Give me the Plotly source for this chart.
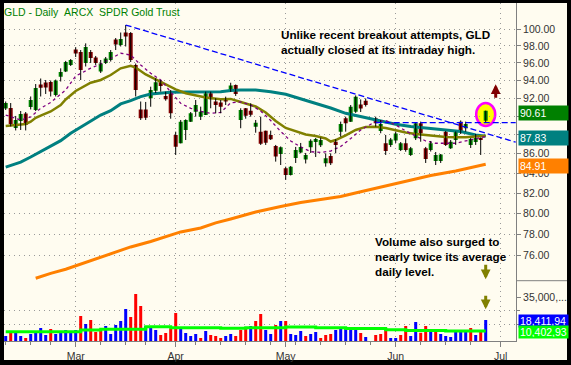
import math
import plotly.graph_objects as go

# ---------------- data ----------------
FEB = [11, 12, 13, 14, 15, 19, 20, 21, 22, 25, 26, 27, 28, 29]
MAR = [3, 4, 5, 6, 7, 10, 11, 12, 13, 14, 17, 18, 19, 20, 24, 25, 26, 27, 28, 31]
APR = [1, 2, 3, 4, 7, 8, 9, 10, 11, 14, 15, 16, 17, 18, 21, 22, 23, 24, 25, 28, 29, 30]
MAY = [1, 2, 5, 6, 7, 8, 9, 12, 13, 14, 15, 16, 19, 20, 21, 22, 23, 27, 28, 29, 30]
JUN = [2, 3, 4, 5, 6, 9, 10, 11, 12, 13, 16, 17, 18, 19, 20, 23, 24, 25, 26]
dates = [f"2008-{m:02d}-{d:02d}" for m, days in ((2, FEB), (3, MAR), (4, APR), (5, MAY), (6, JUN)) for d in days]

open_ = [90.85, 90.90, 88.73, 89.48, 90.30, 91.01, 90.68, 93.53, 93.75, 93.81,
         92.35, 94.42, 95.01, 95.77, 97.57, 97.28, 96.00, 97.28, 96.64, 95.01,
         96.00, 96.35, 98.77, 98.11, 99.61, 99.55, 95.77, 90.73, 90.73, 91.98,
         92.83, 93.86, 92.24, 92.72, 87.98, 87.10, 88.51, 89.41, 90.50, 89.95,
         90.13, 92.54, 91.62, 91.51, 91.98, 92.80, 93.47, 89.59, 90.87, 90.60,
         88.87, 88.33, 88.44, 87.98, 86.81, 85.97, 84.49, 83.81, 85.56, 86.13,
         85.40, 86.67, 87.23, 86.90, 85.01, 85.77, 87.26, 88.33, 89.77, 89.41,
         90.50, 91.29, 91.71, 89.77, 88.41, 87.10, 86.92, 87.39, 86.39, 87.10,
         85.87, 87.62, 89.23, 86.57, 86.39, 85.24, 85.24, 88.33, 86.57, 87.44,
         89.41, 88.70, 86.92, 87.23, 87.60, 89.50]
high = [91.62, 91.45, 90.03, 90.57, 90.46, 92.18, 93.58, 94.21, 94.04, 93.98,
        94.09, 95.38, 96.24, 96.46, 97.86, 97.52, 98.31, 97.52, 96.82, 96.35,
        96.70, 97.52, 98.95, 99.61, 100.52, 99.67, 95.94, 91.62, 91.57, 93.28,
        94.24, 94.04, 92.72, 92.91, 88.33, 89.59, 89.66, 90.46, 91.79, 91.05,
        92.72, 92.72, 91.98, 91.79, 92.16, 93.73, 93.53, 90.87, 90.90, 91.42,
        89.59, 89.95, 88.44, 88.44, 86.92, 86.76, 84.66, 84.73, 86.71, 87.13,
        86.08, 87.52, 87.66, 87.70, 86.04, 86.04, 87.52, 89.41, 89.95, 91.23,
        92.30, 91.85, 91.96, 89.95, 89.59, 87.98, 87.66, 88.33, 87.23, 87.62,
        86.71, 89.31, 89.41, 86.71, 87.34, 86.18, 85.97, 88.40, 87.44, 88.35,
        89.54, 89.41, 87.66, 88.08, 87.71, 90.61]
low = [90.68, 88.89, 88.46, 88.51, 88.46, 90.74, 90.57, 92.18, 92.46, 92.18,
       92.18, 93.87, 94.95, 95.65, 96.70, 94.04, 95.59, 96.00, 95.77, 94.84,
       95.88, 96.17, 97.52, 97.94, 97.94, 96.11, 92.18, 89.59, 89.59, 91.04,
       92.57, 92.72, 91.71, 89.73, 85.87, 87.08, 87.44, 89.38, 89.95, 89.59,
       90.13, 90.87, 90.32, 90.32, 91.23, 92.69, 92.24, 88.70, 89.73, 89.95,
       88.22, 86.92, 86.92, 87.44, 85.18, 84.83, 83.31, 83.76, 85.04, 86.04,
       84.99, 86.08, 85.66, 86.70, 84.66, 84.83, 86.04, 87.80, 88.33, 89.38,
       90.36, 90.46, 91.06, 88.87, 88.16, 85.87, 86.71, 87.13, 86.28, 86.21,
       85.77, 87.44, 87.26, 85.04, 86.23, 84.83, 85.04, 86.81, 86.50, 86.92,
       88.08, 88.33, 86.60, 86.92, 85.87, 89.35]
close = [91.45, 89.16, 89.59, 90.24, 89.05, 91.79, 93.12, 93.15, 93.19, 92.74,
         93.98, 94.95, 96.12, 96.35, 97.11, 95.19, 97.88, 96.58, 96.00, 95.94,
         96.52, 97.28, 98.17, 98.83, 99.13, 96.35, 92.91, 89.78, 89.84, 92.91,
         93.79, 93.36, 91.86, 90.32, 86.74, 89.41, 89.59, 90.32, 91.23, 90.50,
         92.54, 91.86, 91.23, 91.05, 91.62, 93.42, 92.46, 90.68, 90.05, 90.15,
         89.30, 87.05, 87.15, 87.52, 85.70, 86.67, 83.81, 84.66, 86.39, 86.71,
         85.87, 87.37, 87.55, 87.45, 85.53, 85.01, 86.92, 89.16, 89.23, 91.05,
         92.16, 90.85, 91.23, 89.23, 89.15, 86.28, 87.49, 88.14, 87.10, 86.39,
         86.57, 89.23, 88.16, 85.45, 87.10, 85.87, 85.93, 86.92, 87.26, 88.33,
         88.38, 89.16, 87.55, 87.66, 87.49, 90.61]
volume_m = [6.7, 10.3, 9.6, 6.7, 5.2, 8.1, 10.3, 12.5, 7.4, 11.8,
            8.1, 9.6, 11.1, 8.9, 11.1, 21.3, 15.4, 18.4, 9.6, 10.3,
            14.0, 8.1, 14.7, 17.6, 26.4, 20.6, 37.4, 28.6, 14.0, 13.3,
            11.1, 7.4, 8.9, 11.8, 23.5, 13.3, 8.9, 6.7, 8.1, 5.2,
            10.3, 7.4, 6.7, 5.2, 6.7, 8.1, 6.7, 11.1, 11.8, 14.0,
            17.6, 22.8, 11.1, 8.1, 14.7, 17.6, 17.6, 8.1, 7.4, 10.3,
            6.7, 8.1, 9.6, 5.2, 7.4, 8.1, 11.1, 13.3, 11.8, 11.1,
            11.1, 8.9, 5.9, 7.4, 8.1, 12.5, 5.2, 5.2, 7.4, 14.0,
            6.7, 16.9, 9.1, 14.0, 9.6, 9.6, 8.1, 6.7, 5.9, 10.3,
            9.6, 9.6, 12.5, 7.4, 10.7, 18.41194]

ma50_dates = ["2008-02-11", "2008-02-14", "2008-02-19", "2008-02-21", "2008-02-25", "2008-02-27",
              "2008-02-29", "2008-03-04", "2008-03-06", "2008-03-10", "2008-03-12", "2008-03-14",
              "2008-03-18", "2008-03-20", "2008-03-25", "2008-03-27", "2008-03-31", "2008-04-03",
              "2008-04-09", "2008-04-14", "2008-04-16", "2008-04-18", "2008-04-23", "2008-04-28",
              "2008-05-01", "2008-05-05", "2008-05-07", "2008-05-12", "2008-05-14", "2008-05-19",
              "2008-05-22", "2008-05-28", "2008-06-02", "2008-06-05", "2008-06-11", "2008-06-16",
              "2008-06-19", "2008-06-24", "2008-06-26"]
ma50 = [84.62, 85.13, 85.66, 86.22, 86.73, 87.37, 88.16, 88.83, 89.46, 90.13, 90.60, 91.35,
        91.71, 92.16, 92.46, 92.57, 92.65, 92.69, 92.72, 92.72, 92.85, 92.91, 92.91, 92.72,
        92.43, 92.10, 91.73, 91.23, 90.90, 90.32, 89.94, 89.48, 89.12, 88.89, 88.70, 88.51,
        88.35, 87.98, 87.83]

ma20_dates = ["2008-02-11", "2008-02-13", "2008-02-15", "2008-02-19", "2008-02-20", "2008-02-21",
              "2008-02-25", "2008-02-27", "2008-02-28", "2008-03-03", "2008-03-06", "2008-03-10",
              "2008-03-12", "2008-03-14", "2008-03-18", "2008-03-19", "2008-03-24", "2008-03-26",
              "2008-03-28", "2008-04-01", "2008-04-03", "2008-04-07", "2008-04-09", "2008-04-14",
              "2008-04-16", "2008-04-18", "2008-04-23", "2008-04-25", "2008-04-29", "2008-05-01",
              "2008-05-05", "2008-05-07", "2008-05-09", "2008-05-13", "2008-05-14", "2008-05-15",
              "2008-05-19", "2008-05-21", "2008-05-23", "2008-05-27", "2008-05-29", "2008-06-02",
              "2008-06-04", "2008-06-06", "2008-06-10", "2008-06-12", "2008-06-16", "2008-06-18",
              "2008-06-20", "2008-06-24", "2008-06-26"]
ma20 = [88.94, 89.05, 89.16, 89.41, 89.82, 90.07, 90.52, 91.23, 91.85, 92.80, 93.73, 94.04,
        94.61, 95.38, 95.68, 95.47, 94.67, 94.10, 93.53, 92.97, 92.54, 92.30, 92.07, 91.88,
        91.91, 91.57, 91.07, 90.41, 89.48, 88.73, 88.35, 88.03, 87.87, 87.60, 87.28, 87.44,
        87.93, 88.51, 88.84, 88.87, 88.73, 88.46, 88.25, 88.08, 87.96, 87.84, 87.76, 87.73,
        87.73, 87.82, 87.90]

ma10_dates = ["2008-02-11", "2008-02-14", "2008-02-19", "2008-02-21", "2008-02-25", "2008-02-28",
              "2008-03-03", "2008-03-06", "2008-03-10", "2008-03-12", "2008-03-14", "2008-03-18",
              "2008-03-20", "2008-03-25", "2008-03-27", "2008-03-31", "2008-04-02", "2008-04-04",
              "2008-04-08", "2008-04-10", "2008-04-14", "2008-04-16", "2008-04-18", "2008-04-22",
              "2008-04-24", "2008-04-28", "2008-04-30", "2008-05-02", "2008-05-06", "2008-05-08",
              "2008-05-12", "2008-05-14", "2008-05-16", "2008-05-20", "2008-05-22", "2008-05-27",
              "2008-05-29", "2008-06-02", "2008-06-04", "2008-06-06", "2008-06-10", "2008-06-12",
              "2008-06-16", "2008-06-18", "2008-06-20", "2008-06-24", "2008-06-26"]
ma10 = [90.13, 89.59, 89.91, 90.87, 91.51, 92.91, 94.49, 95.40, 95.88, 96.55, 97.14, 96.93,
        95.77, 94.81, 94.04, 92.69, 91.42, 90.87, 90.52, 90.32, 90.41, 91.48, 91.57, 91.23,
        90.57, 89.53, 88.35, 87.34, 86.71, 86.21, 86.13, 86.28, 86.76, 87.60, 88.51, 89.43,
        89.53, 89.05, 88.41, 87.87, 87.34, 87.10, 87.10, 87.10, 87.34, 87.60, 87.82]

ma200_dates = ["2008-02-20", "2008-02-25", "2008-02-28", "2008-03-05", "2008-03-10", "2008-03-13",
               "2008-03-18", "2008-03-25", "2008-03-28", "2008-04-02", "2008-04-08", "2008-04-11",
               "2008-04-16", "2008-04-23", "2008-04-30", "2008-05-06", "2008-05-12", "2008-05-16",
               "2008-05-22", "2008-05-29", "2008-06-04", "2008-06-11", "2008-06-18", "2008-06-24",
               "2008-06-26"]
ma200 = [73.95, 74.39, 74.76, 75.37, 75.82, 76.32, 76.81, 77.32, 77.74, 78.22, 78.60, 79.08,
         79.46, 80.13, 80.67, 81.06, 81.36, 81.65, 82.13, 82.70, 83.20, 83.76, 84.22, 84.63,
         84.91]

vol_avg_dates = ["2008-02-11", "2008-03-04", "2008-03-10", "2008-03-24", "2008-03-31", "2008-04-14",
                 "2008-04-21", "2008-05-01", "2008-05-09", "2008-05-19", "2008-05-29", "2008-06-04",
                 "2008-06-16", "2008-06-26"]
vol_avg_m = [9.8, 11.1, 11.6, 13.5, 12.7, 12.3, 12.7, 13.2, 12.7, 12.2, 11.2, 10.6, 10.4, 10.40293]

trend_dates = ["2008-03-17", "2008-07-04"]
trend_prices = [100.52, 87.21]
resist_dates = ["2008-05-27", "2008-07-04"]
resist_prices = [89.3, 89.3]

HOLIDAYS = ["2008-02-18", "2008-03-21"]
MONTH_TICKS = ["2008-03-03", "2008-04-01", "2008-05-01", "2008-06-02", "2008-07-01"]
MONTH_LABELS = ["Mar", "Apr", "May", "Jun", "Jul"]
WEEK_TICKS = ["2008-02-11", "2008-02-19", "2008-02-25", "2008-03-10", "2008-03-17", "2008-03-24",
              "2008-04-07", "2008-04-14", "2008-04-21", "2008-04-28", "2008-05-05", "2008-05-12",
              "2008-05-19", "2008-05-26", "2008-06-09", "2008-06-16", "2008-06-23"]
PRICE_TICKS = list(range(76, 101, 2))
HIDDEN_PRICE_LABELS = [88, 90]          # covered by the value boxes in the original
VOL_TICK = 35e6
VOL_TICK_LABEL = "35,000,..."
VOL_GRID = [15e6, 25e6]

# ---------------- styling ----------------
FONT = "Liberation Sans, Arial, sans-serif"
CREAM = "#FFFCF0"
GRID = "#9a9a9a"
AXIS = "#808080"
TXT = "#333333"
UP, DOWN = "#008000", "#800000"
DAY_MS = 86400000

fig = go.Figure()

# moving averages (behind candles)
fig.add_trace(go.Scatter(x=ma200_dates, y=ma200, mode="lines", line=dict(color="#FF8000", width=3)))
fig.add_trace(go.Scatter(x=ma50_dates, y=ma50, mode="lines", line=dict(color="#008080", width=3)))
fig.add_trace(go.Scatter(x=ma20_dates, y=ma20, mode="lines", line=dict(color="#808000", width=2.5)))
fig.add_trace(go.Scatter(x=ma10_dates, y=ma10, mode="lines",
                         line=dict(color="#800080", width=1.3, dash="3px,3px")))

# wicks
wx, wy = [], []
for d, h, l in zip(dates, high, low):
    wx += [d, d, None]
    wy += [l, h, None]
fig.add_trace(go.Scatter(x=wx, y=wy, mode="lines", line=dict(color="#000000", width=1)))

# bodies
base = [min(o, c) for o, c in zip(open_, close)]
size = [max(abs(c - o), 0.09) for o, c in zip(open_, close)]
body_col = [UP if c >= o else DOWN for o, c in zip(open_, close)]
fig.add_trace(go.Bar(x=dates, y=size, base=base, marker=dict(color=body_col, line=dict(width=0)),
                     width=0.8 * DAY_MS, yaxis="y"))

# trend lines
fig.add_trace(go.Scatter(x=trend_dates, y=trend_prices, mode="lines",
                         line=dict(color="#0000FF", width=1.3, dash="6px,3px")))
fig.add_trace(go.Scatter(x=resist_dates, y=resist_prices, mode="lines",
                         line=dict(color="#0000FF", width=1.3, dash="6px,3px")))

# volume
vol = [v * 1e6 for v in volume_m]
vol_col = []
for i, c in enumerate(close):
    prev = close[i - 1] if i > 0 else open_[0]
    vol_col.append("#0000FF" if c >= prev else "#FF0000")
fig.add_trace(go.Bar(x=dates, y=vol, marker=dict(color=vol_col, line=dict(width=0)),
                     width=0.6 * DAY_MS, yaxis="y2"))
fig.add_trace(go.Scatter(x=vol_avg_dates, y=[v * 1e6 for v in vol_avg_m], mode="lines",
                         line=dict(color="#00FF00", width=3, shape="hv"), yaxis="y2"))

# ---------------- layout ----------------
W, H = 571, 365
ML, MR, MT, MB = 4, 55, 3, 24
PW, PH = W - ML - MR, H - MT - MB
SPLIT = (PH - 277.7) / PH  # top of the volume panel


def px_x(px):
    return (px - ML) / PW


def px_y(py):
    return (H - MB - py) / PH


price_labels = ["" if v in HIDDEN_PRICE_LABELS else f"{v:.2f}" for v in PRICE_TICKS]

fig.update_layout(
    width=W, height=H, margin=dict(l=ML, r=MR, t=MT, b=MB, pad=0, autoexpand=False),
    paper_bgcolor="#000000", plot_bgcolor=CREAM, showlegend=False, barmode="overlay",
    font=dict(family=FONT, size=10.5, color=TXT), hovermode=False,
    xaxis=dict(type="date", anchor="y2", domain=[0, 1],
               range=["2008-02-08 15:50", "2008-07-04 01:26"],
               rangebreaks=[dict(bounds=["sat", "mon"]), dict(values=HOLIDAYS)],
               tickmode="array", tickvals=MONTH_TICKS, ticktext=MONTH_LABELS,
               ticks="outside", ticklen=5, tickcolor=AXIS, showline=True, linecolor=AXIS, linewidth=1,
               showgrid=True, gridcolor=GRID, griddash="1px,4px", gridwidth=1, zeroline=False,
               tickfont=dict(size=10.5, color=TXT),
               minor=dict(tickmode="array", tickvals=WEEK_TICKS, ticks="outside", ticklen=3,
                          tickcolor=AXIS, showgrid=False)),
    yaxis=dict(type="log", domain=[SPLIT, 1], anchor="x", side="right",
               range=[math.log10(73.73), math.log10(103.24)],
               tickmode="array", tickvals=PRICE_TICKS, ticktext=price_labels,
               ticks="outside", ticklen=4, tickcolor=AXIS, showline=True, linecolor=AXIS, linewidth=1,
               showgrid=True, gridcolor=GRID, griddash="1px,4px", gridwidth=1, zeroline=False,
               tickfont=dict(size=10.5, color=TXT)),
    yaxis2=dict(domain=[0, SPLIT], anchor="x", side="right", range=[3.0e6, 47.1e6],
                tickmode="array", tickvals=[VOL_TICK], ticktext=[VOL_TICK_LABEL],
                ticks="outside", ticklen=4, tickcolor=AXIS, showline=True, linecolor=AXIS, linewidth=1,
                showgrid=False, zeroline=False, tickfont=dict(size=10.5, color=TXT),
                minor=dict(tickmode="array", tickvals=VOL_GRID, showgrid=True, gridcolor=GRID,
                           griddash="1px,4px", ticks="outside", ticklen=3, tickcolor=AXIS)),
)

shapes = [
    dict(type="rect", xref="paper", yref="paper", x0=0, x1=px_x(567), y0=px_y(360), y1=1,
         fillcolor=CREAM, line=dict(width=0), layer="below"),
    dict(type="line", xref="paper", yref="paper", x0=1, x1=px_x(567), y0=SPLIT, y1=SPLIT,
         line=dict(color=AXIS, width=1)),
    dict(type="circle", xref="x", yref="y", xsizemode="pixel", xanchor=dates[-1],
         x0=-9.5, x1=9.5, y0=88.94, y1=91.45,
         fillcolor="#FFFF00", line=dict(color="#FF00FF", width=2.5), layer="below"),
]
fig.update_layout(shapes=shapes)

ann = []
ann.append(dict(text="GLD - Daily \u00a0ARCX \u00a0SPDR Gold Trust", xref="paper", yref="paper",
                x=-0.003, y=px_y(11.7), xanchor="left", yanchor="middle", showarrow=False,
                font=dict(size=10.5, color="#008000", family=FONT)))
ann.append(dict(text="<b>Unlike recent breakout attempts, GLD<br>actually closed at its intraday high.</b>",
                xref="paper", yref="paper", x=px_x(278.5), y=px_y(41.7), xanchor="left",
                yanchor="middle", align="left", showarrow=False,
                font=dict(size=11.7, color="#000000", family=FONT)))
ann.append(dict(text="<b>Volume also surged to<br>nearly twice its average<br>daily level.</b>",
                xref="paper", yref="paper", x=px_x(373), y=px_y(256.3), xanchor="left",
                yanchor="middle", align="left", showarrow=False,
                font=dict(size=11.7, color="#000000", family=FONT)))
# arrows
ann.append(dict(text="", xref="x", yref="paper", x="2008-06-30", y=px_y(84.3), ax=0, ay=15,
                showarrow=True, arrowhead=2, arrowwidth=3, arrowsize=0.65, arrowcolor="#800000"))
ann.append(dict(text="", xref="x", yref="paper", x=dates[-1], y=px_y(279.3), ax=0, ay=-16,
                showarrow=True, arrowhead=2, arrowwidth=3, arrowsize=0.65, arrowcolor="#808000"))
ann.append(dict(text="", xref="x", yref="paper", x=dates[-1], y=px_y(309.3), ax=0, ay=-15,
                showarrow=True, arrowhead=2, arrowwidth=3, arrowsize=0.65, arrowcolor="#808000"))
# value boxes on the price axis
for val, col in ((close[-1], "#008000"), (ma50[-1], "#008080"), (ma200[-1], "#FF8000")):
    ann.append(dict(text=f"{val:.2f}", xref="paper", yref="y", x=px_x(517.5), y=math.log10(val),
                    xanchor="left", yanchor="middle", yshift=-2, showarrow=False, align="left",
                    width=47, height=12, borderpad=1, bgcolor=col,
                    font=dict(size=10.5, color="#FFFFFF", family=FONT)))
# value boxes on the volume axis
for val, txt, col in ((vol[-1], "18,411,94", "#0000FF"), (vol_avg_m[-1] * 1e6, "10,402,93", "#00FF00")):
    ann.append(dict(text=txt, xref="paper", yref="y2", x=px_x(517.5), y=val,
                    xanchor="left", yanchor="middle", yshift=-1, showarrow=False, align="left",
                    width=47, height=10, borderpad=1, bgcolor=col,
                    font=dict(size=10.5, color="#FFFFFF", family=FONT)))
fig.update_layout(annotations=ann)

fig.write_html("out.html", config={"displayModeBar": False},
               post_script="document.body.style.margin='0';document.body.style.padding='0';"
                           "document.body.style.background='#000';"
                           "document.documentElement.style.overflow='hidden';")
